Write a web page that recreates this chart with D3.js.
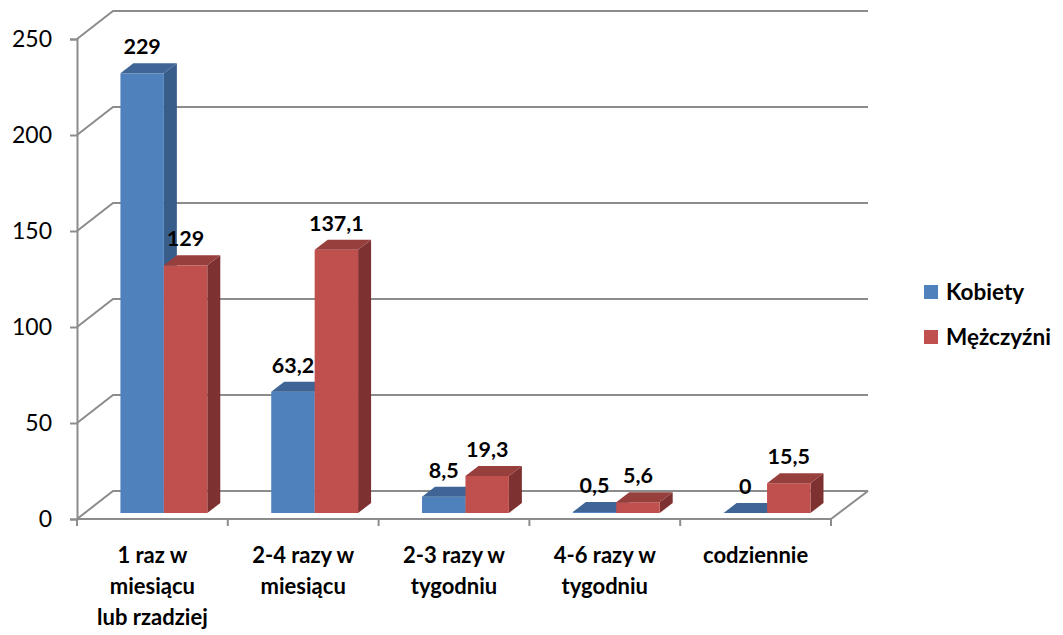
<!DOCTYPE html>
<html>
<head>
<meta charset="utf-8">
<script src="https://cdn.jsdelivr.net/npm/d3@7"></script>
<style>
  body { margin: 0; background: #fff; }
  svg { display: block; }
</style>
</head>
<body>
<svg id="chart" width="1063" height="635"></svg>
<script>
// data
const categories = ['1 raz w miesiącu lub rzadziej', '2-4 razy w miesiącu', '2-3 razy w tygodniu', '4-6 razy w tygodniu', 'codziennie']
const catLines = [['1 raz w', 'miesiącu', 'lub rzadziej'], ['2-4 razy w', 'miesiącu'], ['2-3 razy w', 'tygodniu'], ['4-6 razy w', 'tygodniu'], ['codziennie']]
const seriesNames = ['Kobiety', 'Mężczyźni']
const kobiety = [229, 63.2, 8.5, 0.5, 0]
const mezczyzni = [129, 137.1, 19.3, 5.6, 15.5]
const yTicks = [0, 50, 100, 150, 200, 250]

const colors = [
  {front: '#4F81BD', top: '#3E6595', side: '#385D8A'},
  {front: '#C0504D', top: '#973F3C', side: '#7D3231'}
]

const svg = d3.select('#chart')
const font = "Lato, 'Open Sans', sans-serif"

// plot frame (front plane + depth offset)
const plotLeft = 77, plotRight = 831, plotBottom = 519, plotTop = 39
const depthX = 36, depthY = 28
const gridColor = '#8C8C8C'

const y = d3.scaleLinear().domain([0, 250]).range([plotBottom, plotTop])
const x = d3.scaleBand().domain(categories).range([plotLeft, plotRight])

// gridlines: diagonal from front axis to back wall, then across
const grid = svg.append('g')
yTicks.forEach(t => {
  grid.append('path')
    .attr('d', `M${plotLeft},${y(t)} L${plotLeft + depthX},${y(t) - depthY} L${plotRight + depthX + 1},${y(t) - depthY}`)
    .attr('fill', 'none')
    .attr('stroke', gridColor)
    .attr('stroke-width', 2)
})
// floor front edge and right edge
grid.append('path')
  .attr('d', `M${plotLeft},${plotBottom} L${plotRight},${plotBottom} L${plotRight + depthX + 1},${plotBottom - depthY}`)
  .attr('fill', 'none').attr('stroke', gridColor).attr('stroke-width', 2)

// y axis
const yAxis = svg.append('g')
  .attr('transform', `translate(${plotLeft},0)`)
  .call(d3.axisLeft(y).tickValues(yTicks).tickSize(7).tickPadding(18))
yAxis.select('.domain').attr('stroke', gridColor).attr('stroke-width', 2)
yAxis.selectAll('.tick line').attr('stroke', gridColor).attr('stroke-width', 2)
yAxis.selectAll('.tick text')
  .attr('font-family', font).attr('font-size', 23).attr('fill', '#000')

// category ticks
const catTicks = categories.map(c => x(c)).concat([plotRight])
svg.append('g').selectAll('line')
  .data(catTicks)
  .enter()
  .append('line')
  .attr('x1', d => d).attr('x2', d => d)
  .attr('y1', plotBottom).attr('y2', plotBottom + 7)
  .attr('stroke', gridColor).attr('stroke-width', 2)

// bars
const bw = x.bandwidth()
const barW = bw * 0.288
const barOffset = bw * 0.288
const base = plotBottom - 6
const barDx = 13, barDy = 10
const hScale = v => (plotBottom - y(v))

const seriesData = [kobiety, mezczyzni]
const bars = svg.append('g')
const labels = svg.append('g')

categories.forEach((c, ci) => {
  seriesData.forEach((vals, si) => {
    const v = vals[ci]
    const x0 = x(c) + barOffset + si * barW
    const x1 = x0 + barW
    const yt = base - hScale(v)
    const col = colors[si]
    const g = bars.append('g')
    // side face
    g.append('path')
      .attr('d', `M${x1},${yt} L${x1 + barDx},${yt - barDy} L${x1 + barDx},${base - barDy} L${x1},${base}Z`)
      .attr('fill', col.side)
    // front face
    g.append('rect')
      .attr('x', x0).attr('y', yt)
      .attr('width', barW).attr('height', Math.max(0, base - yt))
      .attr('fill', col.front)
    // top face
    g.append('path')
      .attr('d', `M${x0},${yt} L${x1},${yt} L${x1 + barDx},${yt - barDy} L${x0 + barDx},${yt - barDy}Z`)
      .attr('fill', col.top)

    labels.append('text')
      .attr('x', x0 + barW / 2)
      .attr('y', yt - barDy - 9)
      .attr('text-anchor', 'middle')
      .attr('font-family', font)
      .attr('font-weight', 'bold')
      .attr('font-size', 21.5)
      .text(String(v).replace('.', ','))
  })
})

// category labels
const catLabels = svg.append('g')
categories.forEach((c, ci) => {
  const t = catLabels.append('text')
    .attr('x', x(c) + bw / 2)
    .attr('y', 563)
    .attr('text-anchor', 'middle')
    .attr('font-family', font)
    .attr('font-weight', 'bold')
    .attr('font-size', 22)
  catLines[ci].forEach((line, li) => {
    t.append('tspan')
      .attr('x', x(c) + bw / 2)
      .attr('dy', li === 0 ? 0 : 31)
      .text(line)
  })
})

// legend
const legend = svg.append('g')
seriesNames.forEach((name, i) => {
  legend.append('rect')
    .attr('x', 924).attr('y', 285 + i * 45)
    .attr('width', 14).attr('height', 14)
    .attr('fill', colors[i].front)
  legend.append('text')
    .attr('x', 946).attr('y', 300 + i * 45)
    .attr('font-family', font)
    .attr('font-weight', 'bold')
    .attr('font-size', 22.5)
    .text(name)
})
</script>
</body>
</html>
